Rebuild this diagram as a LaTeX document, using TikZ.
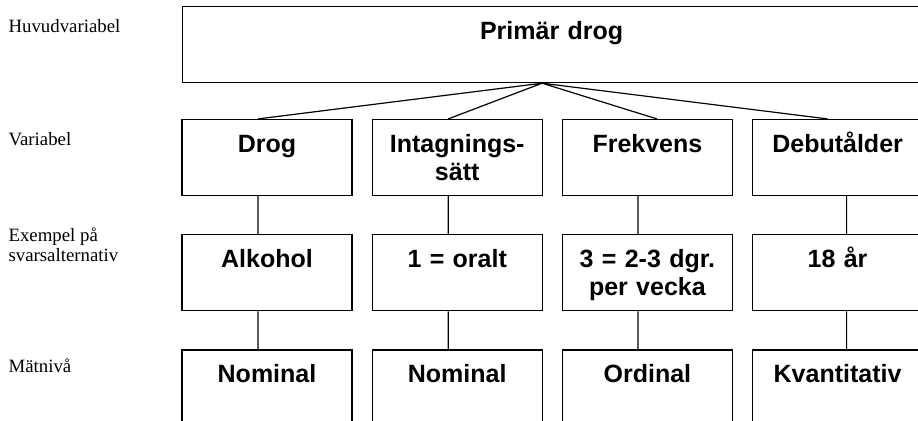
\documentclass[tikz,border=0pt]{standalone}
\usepackage{fontspec}
\setmainfont{Liberation Serif}
\setsansfont{Liberation Sans}
\usetikzlibrary{positioning}
\begin{document}
\begin{tikzpicture}[x=0.5pt, y=-0.5pt, line width=0.6pt,
		cell/.style={draw, rectangle, inner sep=0pt, text width=85pt, align=center, text height=16.5pt, text depth=21.5pt, font=\sffamily\bfseries\fontsize{12.5}{14}\selectfont},
		side/.style={anchor=base west, align=left, inner sep=0pt, font=\fontsize{9.4}{10}\selectfont}]
			\useasboundingbox (0,0) rectangle (918,420);
			\clip (0,0) rectangle (918,420);
			\node[cell, text width=369pt, anchor=north west] at (182,6) (main) {Primär drog};
			\node[cell] at (267,157.5) (drog) {Drog};
			\node[cell, right=9.5pt of drog] (intag) {Intagnings-\\sätt};
			\node[cell, right=9.5pt of intag] (frekv) {Frekvens};
			\node[cell, right=9.5pt of frekv] (debut) {Debutålder};
			\node[cell, below=19pt of drog] (alk) {Alkohol};
			\node[cell, below=19pt of intag] (oralt) {1 = oralt};
			\node[cell, below=19pt of frekv] (dgr) {3 = 2-3 dgr.\\per vecka};
			\node[cell, below=19pt of debut] (ar) {18 år};
			\node[cell, below=19pt of alk] (nom1) {Nominal};
			\node[cell, below=19pt of oralt] (nom2) {Nominal};
			\node[cell, below=19pt of dgr] (ord) {Ordinal};
			\node[cell, below=19pt of ar] (kvant) {Kvantitativ};
			\node[side] at (8,32.7) (lhuvud) {Huvudvariabel};
			\node[side] at (8,145) (lvar) {Variabel};
			\node[side] at (8,261.7) (lex) {Exempel på\\svarsalternativ};
			\node[side] at (8,372.7) (lniva) {Mätnivå};
			\coordinate (hub) at ([xshift=-4.75pt]main.south);
			\draw
			(hub)--([xshift=-4.5pt]drog.north) (hub)--([xshift=-4.5pt]intag.north)
			(hub)--([xshift=4.75pt]frekv.north) (hub)--([xshift=-5pt]debut.north)
			([xshift=-4.5pt]drog.south)--([xshift=-4.5pt]alk.north) ([xshift=-4.5pt]alk.south)--([xshift=-4.5pt]nom1.north)
			([xshift=-4.5pt]intag.south)--([xshift=-4.5pt]oralt.north) ([xshift=-4.5pt]oralt.south)--([xshift=-4.5pt]nom2.north)
			([xshift=-4.75pt]frekv.south)--([xshift=-4.75pt]dgr.north) ([xshift=-4.75pt]dgr.south)--([xshift=-4.75pt]ord.north)
			([xshift=4.5pt]debut.south)--([xshift=4.5pt]ar.north) ([xshift=4.5pt]ar.south)--([xshift=4.5pt]kvant.north);
		\end{tikzpicture}
\end{document}
